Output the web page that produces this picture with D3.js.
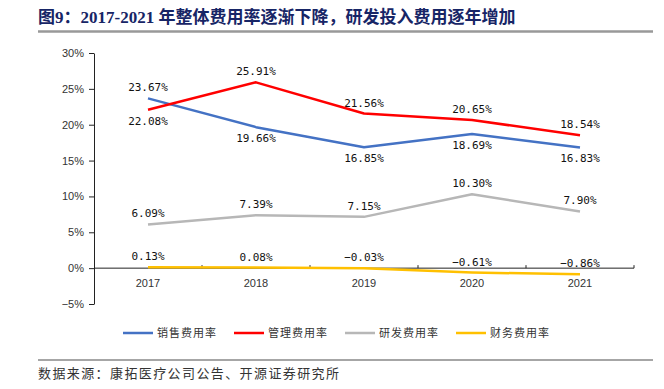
<!DOCTYPE html>
<html><head><meta charset="utf-8">
<script src="https://cdn.jsdelivr.net/npm/d3@7"></script>
<style>body{margin:0;background:#fff}svg{display:block}</style>
</head><body>
<svg id="c" width="664" height="389"></svg>
<script>
const years = ["2017","2018","2019","2020","2021"];
const sales = [23.67, 19.66, 16.85, 18.69, 16.83];
const admin = [22.08, 25.91, 21.56, 20.65, 18.54];
const rnd = [6.09, 7.39, 7.15, 10.30, 7.90];
const finance = [0.13, 0.08, -0.03, -0.61, -0.86];
const yTicks = [-5, 0, 5, 10, 15, 20, 25, 30];
const seriesNames = ["销售费用率","管理费用率","研发费用率","财务费用率"];
const colors = ["#4472C4","#FF0000","#B7B7B7","#FFC000"];
const labelPos = [
  ["above","below","below","below","below"],
  ["below","above","above","above","above"],
  ["above","above","above","above","above"],
  ["above","above","above","above","above"]
];

const svg = d3.select("#c");
const x = d3.scaleBand().domain(years).range([94, 634]);
const y = d3.scaleLinear().domain([-5, 30]).range([304, 53]);

// title
svg.append("text").attr("x", 38).attr("y", 23)
  .attr("font-family", "'Liberation Serif','Noto Sans CJK SC',serif")
  .attr("font-weight", "bold").attr("font-size", 17).attr("fill", "#172566")
  .text("图9：2017-2021 年整体费用率逐渐下降，研发投入费用逐年增加");
svg.append("line").attr("x1", 38).attr("x2", 653).attr("y1", 31.5).attr("y2", 31.5)
  .attr("stroke", "#999").attr("stroke-width", 2.5);

// y axis
const yAxis = svg.append("g").attr("transform", "translate(94,0)")
  .call(d3.axisLeft(y).tickValues(yTicks).tickSize(5).tickSizeOuter(0)
    .tickFormat(d => (d < 0 ? "\u2212" + Math.abs(d) : d) + "%"));
yAxis.select(".domain").attr("stroke", "#222");
yAxis.selectAll(".tick line").attr("stroke", "#222");
yAxis.selectAll("text").attr("font-family", "'Liberation Sans',Arial,sans-serif")
  .attr("font-size", 11).attr("fill", "#333").attr("x", -10);

// x axis at 0
const y0 = y(0);
const xg = svg.append("g");
xg.append("line").attr("x1", 94).attr("x2", 634).attr("y1", y0).attr("y2", y0)
  .attr("stroke", "#222");
const bounds = years.map(d => x(d) + x.bandwidth());
xg.selectAll("line.tk").data(bounds).join("line").attr("class", "tk")
  .attr("x1", d => d).attr("x2", d => d).attr("y1", y0 - 3).attr("y2", y0)
  .attr("stroke", "#222");
xg.selectAll("text").data(years).join("text")
  .attr("x", d => x(d) + x.bandwidth() / 2).attr("y", y0 + 19)
  .attr("text-anchor", "middle").attr("font-family", "'Liberation Sans',Arial,sans-serif")
  .attr("font-size", 11).attr("fill", "#333").text(d => d);

const allSeries = [sales, admin, rnd, finance];
const line = d3.line().x((d, i) => x(years[i]) + x.bandwidth() / 2).y(d => y(d));
[2, 3, 0, 1].forEach(si => {
  svg.append("path").datum(allSeries[si]).attr("d", line)
    .attr("fill", "none").attr("stroke", colors[si]).attr("stroke-width", 2.5)
    .attr("stroke-linejoin", "round");
});
allSeries.forEach((s, si) => {
  svg.append("g").selectAll("text").data(s).join("text")
    .attr("x", (d, i) => x(years[i]) + x.bandwidth() / 2)
    .attr("y", (d, i) => y(d) + (labelPos[si][i] === "above" ? -7 : 15))
    .attr("text-anchor", "middle")
    .attr("font-family", "'DejaVu Sans Mono',monospace").attr("font-size", 11)
    .attr("fill", "#111")
    .text(d => (d < 0 ? "\u2212" + Math.abs(d).toFixed(2) : d.toFixed(2)) + "%");
});

// legend
const legX = [123, 234, 345, 456];
seriesNames.forEach((n, i) => {
  svg.append("line").attr("x1", legX[i]).attr("x2", legX[i] + 30)
    .attr("y1", 333).attr("y2", 333).attr("stroke", colors[i]).attr("stroke-width", 2.5);
  svg.append("text").attr("x", legX[i] + 34).attr("y", 337)
    .attr("font-family", "'Noto Sans CJK SC',sans-serif").attr("font-size", 11)
    .attr("letter-spacing", 1).attr("fill", "#333").text(n);
});

// source
svg.append("line").attr("x1", 38).attr("x2", 653).attr("y1", 360).attr("y2", 360)
  .attr("stroke", "#888").attr("stroke-width", 1.5);
svg.append("text").attr("x", 38).attr("y", 378)
  .attr("font-family", "'Noto Sans CJK SC',sans-serif").attr("font-size", 13)
  .attr("letter-spacing", 1.4).attr("fill", "#333")
  .text("数据来源：康拓医疗公司公告、开源证券研究所");
</script>
</body></html>
